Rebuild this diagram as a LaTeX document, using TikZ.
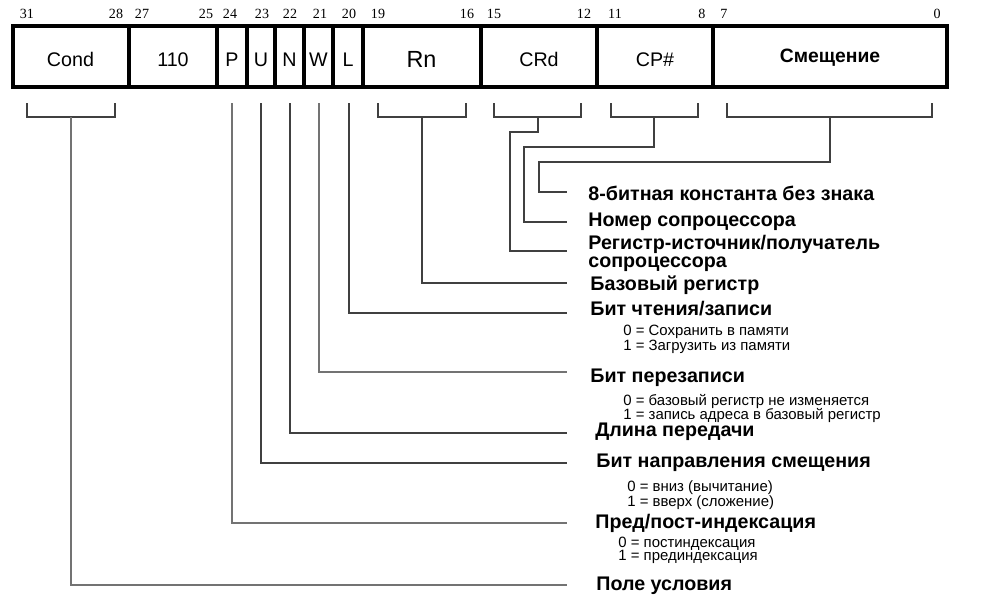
\documentclass[tikz,border=0pt]{standalone}
\usepackage{fontspec}
\setmainfont{Liberation Sans}
\newfontfamily\numfont{Liberation Serif}

\begin{document}
\begin{tikzpicture}[x=0.02cm,y=-0.02cm,
	frame/.style={line width=2.1pt},
	conn/.style={black!75,line width=0.6pt},
	connlt/.style={black!55,line width=0.8pt},
	bitnum/.style={font=\numfont\fontsize{8}{9}\selectfont,inner sep=0pt},
	fld/.style={font=\fontsize{11.2}{12}\selectfont,inner sep=0pt,text height=8pt,text depth=0pt},
	lbl/.style={font=\bfseries\fontsize{11.2}{10.2}\selectfont,anchor=west,inner sep=0pt,align=left},
	sub/.style={font=\fontsize{8.5}{7.6}\selectfont,anchor=west,inner sep=0pt,align=left}]

	\useasboundingbox (0,0) rectangle (1000,605);

	% bit numbers
	\foreach \n/\x in {31/27,28/116,27/142,25/206,24/230,23/262,22/290,21/320,20/349,
		19/378,16/467,15/494,12/584,11/615,8/702,7/724,0/937}
		\node[bitnum] (b\n) at (\x,14) {\n};

	% instruction word
	\draw[frame] (13,26) rectangle (947,87);
	\foreach \x in {129,217,247,275,304,333,363,481,597,713}
		\draw[frame] (\x,26) -- (\x,87);

	\node[fld] (fCond) at (70.5,59.5) {Cond};
	\node[fld] (f110) at (173,59.5) {110};
	\node[fld] (fP) at (232,59.5) {P};
	\node[fld] (fU) at (261,59.5) {U};
	\node[fld] (fN) at (289.5,59.5) {N};
	\node[fld] (fW) at (318.5,59.5) {W};
	\node[fld] (fL) at (348,59.5) {L};
	\node[fld,font=\fontsize{13.3}{14}\selectfont,text height=9.5pt] (fRn) at (421.5,59.5) {Rn};
	\node[fld] (fCRd) at (539,59.5) {CRd};
	\node[fld] (fCP) at (655,59.5) {CP\#};
	\node[fld,font=\bfseries\fontsize{11}{12}\selectfont] (fOff) at (830,55) {Смещение};

	% brackets and ticks
	\draw[conn] (27,103) |- (115,117) -- (115,103);
	\draw[conn] (378,103) |- (466,117) -- (466,103);
	\draw[conn] (494,103) |- (581,117) -- (581,103);
	\draw[conn] (611,103) |- (698,117) -- (698,103);
	\draw[conn] (727,103) |- (932,117) -- (932,103);

	\coordinate (sCond) at (71,117);
	\coordinate (sP) at (232,103);
	\coordinate (sU) at (261,103);
	\coordinate (sN) at (290,103);
	\coordinate (sW) at (319,103);
	\coordinate (sL) at (349,103);
	\coordinate (sRn) at (422,117);
	\coordinate (sCRd) at (538,117);
	\coordinate (sCP) at (654,117);
	\coordinate (sOff) at (830,117);

	% line ends
	\coordinate (eOff) at (567,192);
	\coordinate (eCP) at (567,222);
	\coordinate (eCRd) at (567,251);
	\coordinate (eRn) at (567,283);
	\coordinate (eL) at (567,313);
	\coordinate (eW) at (567,372);
	\coordinate (eN) at (567,433);
	\coordinate (eU) at (567,463);
	\coordinate (eP) at (567,523);
	\coordinate (eCond) at (567,585);

	% labels
	\node[lbl] (lOff) at (588,193) {8-битная константа без знака};
	\node[lbl] (lCP) at (588,222) {Номер сопроцессора};
	\node[lbl] (lCRd) at (588,253) {Регистр-источник/получатель\\сопроцессора};
	\node[lbl] (lRn) at (590,285) {Базовый регистр};
	\node[lbl] (lL) at (590,309) {Бит чтения/записи};
	\node[sub] (dL) at (623,339.5) {0 = Сохранить в памяти\\1 = Загрузить из памяти};
	\node[lbl] (lW) at (590,378) {Бит перезаписи};
	\node[sub,font=\fontsize{8.5}{8.4}\selectfont] (dW) at (623,408.5) {0 = базовый регистр не изменяется\\1 = запись адреса в базовый регистр};
	\node[lbl] (lN) at (595,432) {Длина передачи};
	\node[lbl] (lU) at (596,463) {Бит направления смещения};
	\node[sub] (dU) at (627,495) {0 = вниз (вычитание)\\1 = вверх (сложение)};
	\node[lbl] (lP) at (595,523) {Пред/пост-индексация};
	\node[sub] (dP) at (618,550.5) {0 = постиндексация\\1 = прединдексация};
	\node[lbl] (lCond) at (596,586) {Поле условия};

	% connectors
	\draw[conn] (sOff) |- (539,162) |- (eOff);
	\draw[conn] (sCP) |- (524,147) |- (eCP);
	\draw[conn] (sCRd) |- (510,132) |- (eCRd);
	\draw[conn] (sRn) |- (eRn);
	\draw[conn] (sL) |- (eL);
	\draw[connlt] (sW) |- (eW);
	\draw[conn] (sN) |- (eN);
	\draw[conn] (sU) |- (eU);
	\draw[connlt] (sP) |- (eP);
	\draw[connlt] (sCond) |- (eCond);
\end{tikzpicture}
\end{document}
